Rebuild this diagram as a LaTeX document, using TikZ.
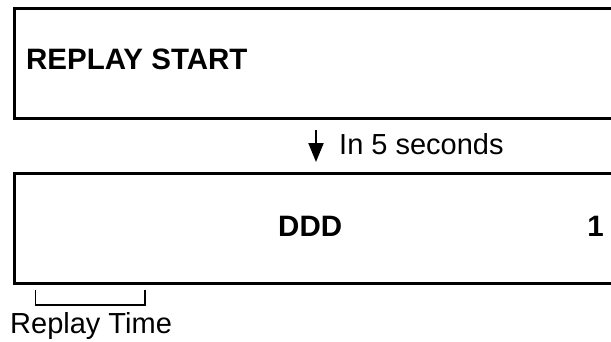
\documentclass[tikz,border=0pt]{standalone}
\usepackage{fontspec}
\setmainfont{Liberation Sans}
\usetikzlibrary{arrows.meta}
\begin{document}
\begin{tikzpicture}[x=1pt,y=-1pt,
  panel/.style={line width=3pt},
  lbl/.style={inner sep=0pt,anchor=base west,font=\fontsize{29}{29}\selectfont},
  blbl/.style={lbl,font=\fontsize{29.5}{29.5}\selectfont\bfseries},
  bracket/.style={line width=1.5pt},
  flow/.style={line width=2pt,-{Triangle[width=15pt,length=19pt]}}]
\useasboundingbox (0,0) rectangle (611,341);
% top panel (open to the right)
\draw[panel] (620,8.5) -- (14.5,8.5) -- (14.5,118) -- (620,118);
\node[blbl] (start) at (26,69.5) {REPLAY START};
% arrow
\coordinate (a1) at (316,130);
\coordinate (a2) at (316,162);
\draw[flow] (a1) -- (a2);
\node[lbl] (sec) at (339,154.3) {In 5 seconds};
% bottom panel
\draw[panel] (620,173) -- (14.5,173) -- (14.5,283) -- (620,283);
\node[blbl] (ddd) at (278,236.7) {DDD};
\node[blbl,anchor=base east] (one) at (604,236.7) {1};
% bracket
\coordinate (b1) at (35.7,290);
\coordinate (b2) at (145,290);
\draw[bracket] (b1) -- (b1 |- 0,305) -- (b2 |- 0,305) -- (b2);
\node[lbl] (rt) at (10,333.3) {Replay Time};
\end{tikzpicture}
\end{document}
